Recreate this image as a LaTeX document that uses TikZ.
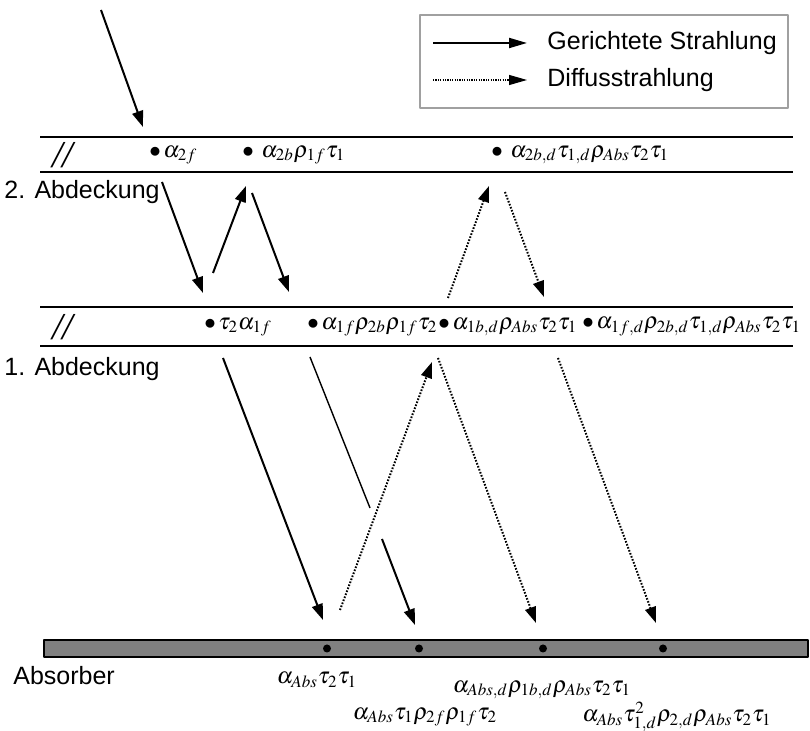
\documentclass[tikz,border=0pt]{standalone}
\usepackage{mathptmx}
\usepackage{fontspec}
\setsansfont{Liberation Sans}
\newfontfamily\slashfont{Liberation Serif}
\usetikzlibrary{arrows.meta}
\definecolor{absorbergrey}{HTML}{808080}
\definecolor{legendframe}{HTML}{A0A0A0}

\begin{document}
\begin{tikzpicture}[
  x=0.5pt,
  y=-0.5pt,
  line join=round,
  font=\fontsize{11.5}{14}\selectfont,
  plate/.style={draw=black,line width=1pt},
  beam/.style={draw=black,line width=1pt,-{Triangle[length=8pt,width=5.5pt]}},
  thinbeam/.style={draw=black,line width=0.7pt},
  diffuse/.style={draw=black,line width=1pt,dash pattern=on 0.8pt off 0.8pt,-{Triangle[length=8pt,width=5.5pt]}},
  label/.style={font=\sffamily\fontsize{12.5}{15}\selectfont,inner sep=0pt,anchor=west},
  term/.style={inner sep=0pt,anchor=west},
  brk/.style={inner sep=0pt,anchor=west,font=\slashfont\itshape\fontsize{19}{19}\selectfont},
  hit/.style={fill=black}
]
  \useasboundingbox (0,0) rectangle (810,731);

  % Legend in the upper right corner.
  \draw[legendframe,line width=0.6pt] (420,15) rectangle (788,108);
  \coordinate (lg1) at (433,43);
  \coordinate (lg2) at (527,43);
  \coordinate (ld1) at (433,80);
  \coordinate (ld2) at (527,80);
  \draw[beam,-{Triangle[length=9pt,width=5pt]}] (lg1) -- (lg2);
  \draw[diffuse,line width=0.6pt,dash pattern=on 0.6pt off 0.6pt,-{Triangle[length=9pt,width=5pt]}] (ld1) -- (ld2);
  \node[label] (legbeam) at (547,43) {Gerichtete Strahlung};
  \node[label] (legdiff) at (547,80) {Diffusstrahlung};

  % The two covers and the absorber plate.
  \draw[plate] (40,137) -- (793,137);
  \draw[plate] (40,172) -- (793,172);
  \draw[plate] (40,307) -- (793,307);
  \draw[plate] (40,346) -- (793,346);
  \draw[black,line width=0.6pt,fill=absorbergrey] (44,640) rectangle (808,657);

  \node[label] (cover2) at (4,192) {2. Abdeckung};
  \node[label] (cover1) at (4,369) {1. Abdeckung};
  \node[label] (absorber) at (13,676) {Absorber};
  \node[brk] (brk2) at (52,155) {//};
  \node[brk] (brk1) at (52,327) {//};

  % Absorbed shares written on the covers.
  \node[term] (a2f) at (149,155) {$\bullet\,\alpha_{2f}$};
  \node[term] (a2b) at (242,155) {$\bullet\ \alpha_{2b}\rho_{1f}\tau_1$};
  \node[term] (a2bd) at (491,155) {$\bullet\ \alpha_{2b,d}\tau_{1,d}\rho_{Abs}\tau_2\tau_1$};
  \node[term] (a1f) at (204,327) {$\bullet\,\tau_2\alpha_{1f}$};
  \node[term] (a1fr) at (307,327) {$\bullet\,\alpha_{1f}\rho_{2b}\rho_{1f}\tau_2$};
  \node[term] (a1bd) at (438,327) {$\bullet\,\alpha_{1b,d}\rho_{Abs}\tau_2\tau_1$};
  \node[term] (a1fd) at (582,327) {$\bullet\,\alpha_{1f,d}\rho_{2b,d}\tau_{1,d}\rho_{Abs}\tau_2\tau_1$};

  % Absorbed shares on the absorber.
  \foreach \px [count=\i] in {327,419,543,663} {
    \fill[hit] (\px,648.5) coordinate (hit\i) circle[radius=2pt];
  }
  \node (abs1) at (317,680) {$\alpha_{Abs}\tau_2\tau_1$};
  \node (abs3) at (542,690) {$\alpha_{Abs,d}\rho_{1b,d}\rho_{Abs}\tau_2\tau_1$};
  \node (abs2) at (425,717) {$\alpha_{Abs}\tau_1\rho_{2f}\rho_{1f}\tau_2$};
  \node (abs4) at (677,717) {$\alpha_{Abs}\tau_{1,d}^2\rho_{2,d}\rho_{Abs}\tau_2\tau_1$};

  % Beam paths: incoming, between the covers, down to the absorber.
  \coordinate (s0) at (101,10);   \coordinate (s1) at (143,127);
  \coordinate (s2) at (162,182);  \coordinate (s3) at (203,293);
  \coordinate (s4) at (213,273);  \coordinate (s5) at (246,186);
  \coordinate (s6) at (252,193);  \coordinate (s7) at (289,292);
  \coordinate (s8) at (223,358);  \coordinate (s9) at (323,620);
  \coordinate (t0) at (310,357);  \coordinate (t1) at (370,508);
  \coordinate (t2) at (382,539);  \coordinate (t3) at (415,625);
  \draw[beam] (s0) -- (s1);
  \draw[beam] (s2) -- (s3);
  \draw[beam] (s4) -- (s5);
  \draw[beam] (s6) -- (s7);
  \draw[beam] (s8) -- (s9);
  \draw[thinbeam] (t0) -- (t1);
  \draw[beam] (t2) -- (t3);

  % Diffuse paths.
  \coordinate (d0) at (448,298);  \coordinate (d1) at (489,186);
  \coordinate (d2) at (505,192);  \coordinate (d3) at (544,297);
  \coordinate (d4) at (340,610);  \coordinate (d5) at (432,362);
  \coordinate (d6) at (438,358);  \coordinate (d7) at (536,623);
  \coordinate (d8) at (558,358);  \coordinate (d9) at (656,623);
  \draw[diffuse] (d0) -- (d1);
  \draw[diffuse] (d2) -- (d3);
  \draw[diffuse] (d4) -- (d5);
  \draw[diffuse] (d6) -- (d7);
  \draw[diffuse] (d8) -- (d9);
\end{tikzpicture}
\end{document}
